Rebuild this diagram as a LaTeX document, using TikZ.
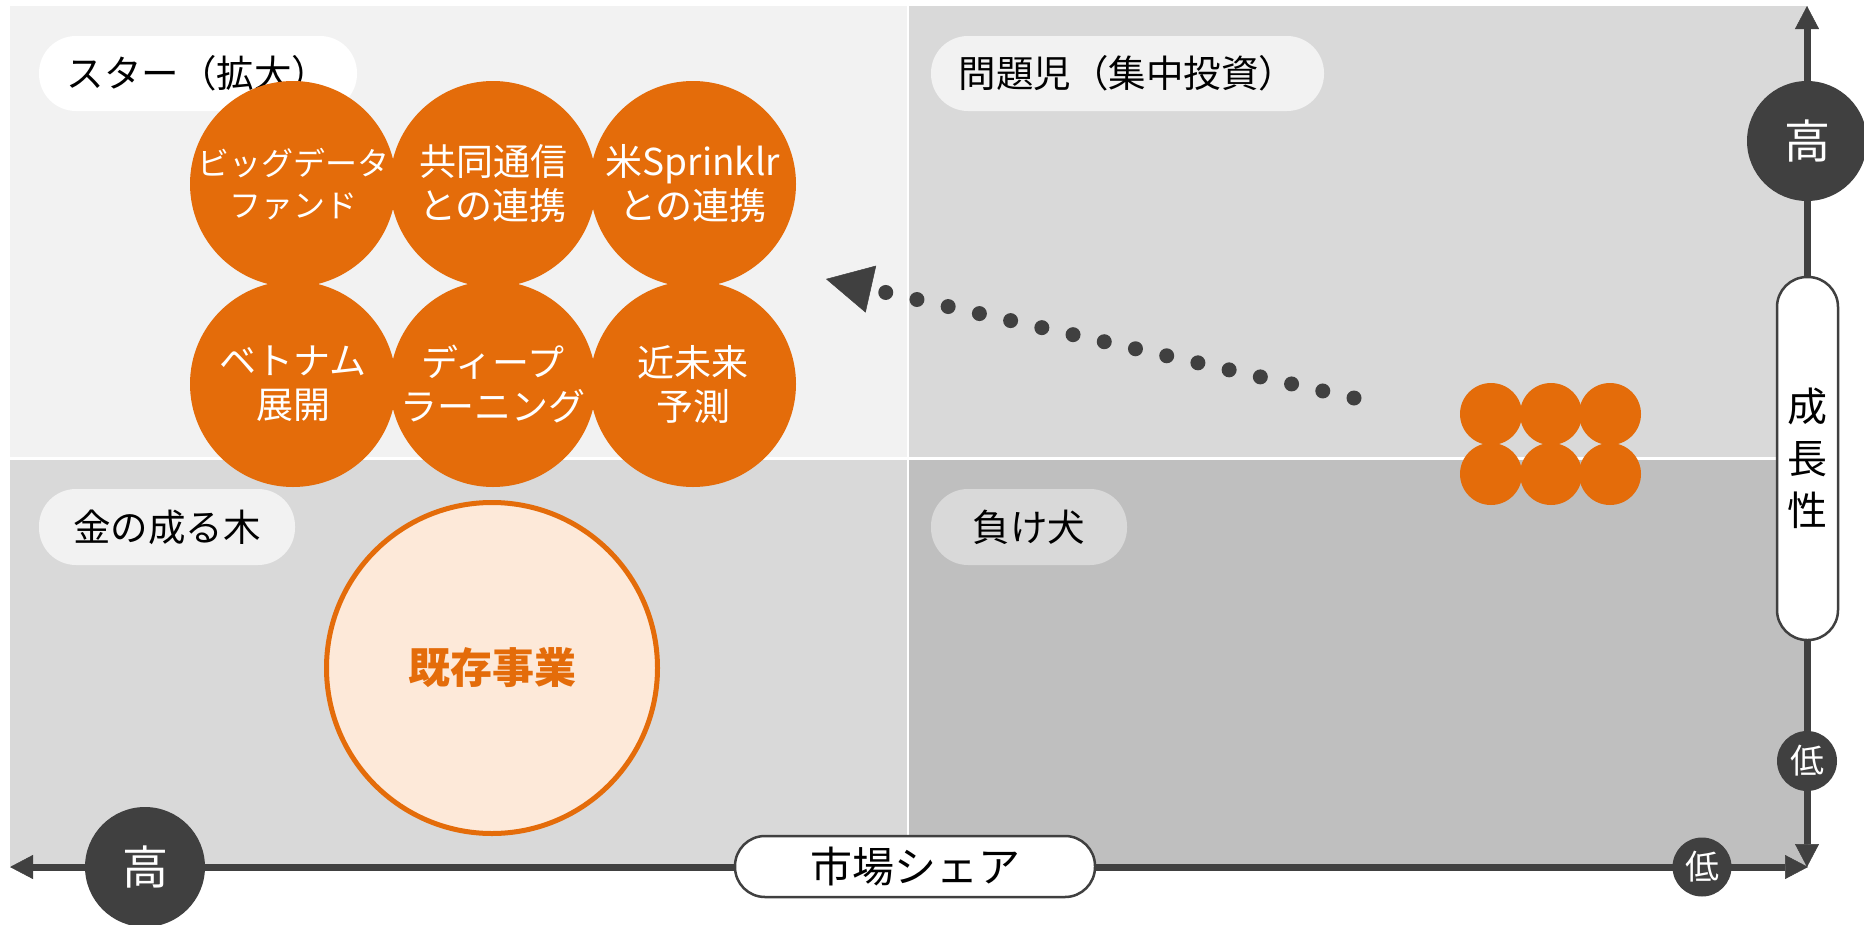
\documentclass[tikz,border=0pt]{standalone}
\usepackage{fontspec}
\setmainfont{Noto Sans CJK JP}
\usetikzlibrary{arrows.meta}
\definecolor{orng}{HTML}{E46C0A}
\definecolor{dk}{HTML}{404040}
\definecolor{qa}{HTML}{F2F2F2}
\definecolor{qb}{HTML}{D9D9D9}
\definecolor{qc}{HTML}{BFBFBF}
\definecolor{pale}{HTML}{FDE9D9}
\tikzset{
  pill/.style={rectangle, rounded corners=37pt, inner sep=0pt, text=black,
    font=\fontsize{37.5pt}{44pt}\selectfont},
  bigball/.style={circle, fill=orng, minimum size=206pt, inner sep=0pt, text=white,
    align=center, font=\fontsize{37pt}{44pt}\selectfont},
  smallball/.style={circle, fill=orng, minimum size=62pt, inner sep=0pt},
  axisdot/.style={circle, fill=dk, text=white, inner sep=0pt},
  axlabel/.style={rectangle, rounded corners=30pt, draw=dk, line width=2.5pt,
    fill=white, inner sep=0pt, text=black},
  axisline/.style={draw=dk, line width=7pt,
    {Triangle[length=23pt,width=24pt,line width=0.5pt]}-{Triangle[length=23pt,width=24pt,line width=0.5pt]}},
  dotarrow/.style={draw=dk, line width=15pt, line cap=round, dash pattern=on 0pt off 32pt,
    -{Triangle[length=46pt,width=48pt,line width=0.5pt]}}
}
\begin{document}
\begin{tikzpicture}[x=1pt,y=-1pt]
\useasboundingbox (0,0) rectangle (1864,924);
% quadrants
\fill[qa] (10,6) rectangle (907,457);
\fill[qb] (909,6) rectangle (1808,457);
\fill[qb] (10,460) rectangle (907,866);
\fill[qc] (909,460) rectangle (1808,866);
% quadrant labels
\node[pill, fill=white, minimum width=318pt, minimum height=75pt] (star) at (198,73.5) {スター（拡大）};
\node[pill, fill=qa, minimum width=393pt, minimum height=75pt] (mondai) at (1127.5,73.5) {問題児（集中投資）};
\node[pill, fill=qa, minimum width=256pt, minimum height=76pt] (kane) at (167,527) {金の成る木};
\node[pill, fill=qb, minimum width=196pt, minimum height=76pt] (make) at (1029,527) {負け犬};
% big orange balls
\node[bigball, font=\fontsize{32pt}{42pt}\selectfont] (c1) at (293,184) {ビッグデータ\\ファンド};
\node[bigball] (c2) at (493,184) {共同通信\\との連携};
\node[bigball] (c3) at (693,184) {米Sprinklr\\との連携};
\node[bigball] (c4) at (293,384) {ベトナム\\展開};
\node[bigball] (c5) at (493,384) {ディープ\\ラーニング};
\node[bigball] (c6) at (693,384) {近未来\\予測};
% existing business
\node[circle, draw=orng, line width=5pt, fill=pale, minimum size=331pt, inner sep=0pt,
  text=orng, font=\fontsize{42pt}{48pt}\selectfont\bfseries] (kizon) at (492,668) {既存事業};
% small balls
\node[smallball] (s1) at (1491,414) {};
\node[smallball] (s2) at (1551,414) {};
\node[smallball] (s3) at (1610,414) {};
\node[smallball] (s4) at (1491,474) {};
\node[smallball] (s5) at (1551,474) {};
\node[smallball] (s6) at (1610,474) {};
% dotted arrow
\coordinate (dstart) at (1354,398);
\coordinate (dend) at (826,279);
\draw[dotarrow] (dstart) -- (dend);
% axes
\coordinate (hl) at (10,867);
\coordinate (hr) at (1808,867);
\coordinate (vt) at (1807,6);
\coordinate (vb) at (1807,867);
\draw[axisline] (hl) -- (hr);
\draw[axisline] (vt) -- (vb);
% axis nodes
\node[axisdot, minimum size=120pt, font=\fontsize{46pt}{50pt}\selectfont] (hix) at (145,867) {高};
\node[axisdot, minimum size=120pt, font=\fontsize{46pt}{50pt}\selectfont] (hiy) at (1807,141) {高};
\node[axisdot, minimum size=60pt, font=\fontsize{34pt}{40pt}\selectfont] (loy) at (1807,761) {低};
\node[axisdot, minimum size=59pt, font=\fontsize{34pt}{40pt}\selectfont] (lox) at (1702,867) {低};
\node[axlabel, minimum width=360pt, minimum height=61pt, font=\fontsize{42pt}{48pt}\selectfont] (share) at (915,866.5) {市場シェア};
\node[axlabel, minimum width=61pt, minimum height=363pt, align=center, font=\fontsize{40pt}{52pt}\selectfont] (growth) at (1807.5,458.5) {成\\長\\性};
\end{tikzpicture}
\end{document}
